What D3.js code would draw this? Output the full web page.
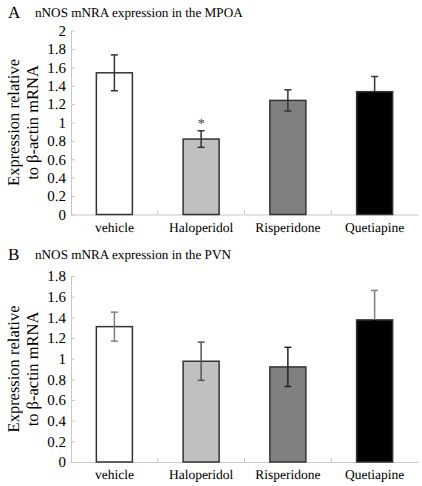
<!DOCTYPE html>
<html><head><meta charset="utf-8">
<script src="https://cdn.jsdelivr.net/npm/d3@7/dist/d3.min.js"></script>
<style>
html,body{margin:0;padding:0;background:#fff;}
svg text{font-family:"Liberation Serif","Times New Roman",serif !important;fill:#000;text-rendering:geometricPrecision;}
</style>
</head><body>
<svg id="chart" width="422" height="486"></svg>
<script>
const categories = ["vehicle", "Haloperidol", "Risperidone", "Quetiapine"];
const mpoaMeans = [1.54, 0.82, 1.24, 1.335];
const mpoaErrors = [0.195, 0.09, 0.115, 0.165];
const pvnMeans = [1.31, 0.975, 0.92, 1.375];
const pvnErrors = [0.14, 0.185, 0.19, 0.285];
const mpoaTicks = [0, 0.2, 0.4, 0.6, 0.8, 1, 1.2, 1.4, 1.6, 1.8, 2];
const pvnTicks = [0, 0.2, 0.4, 0.6, 0.8, 1, 1.2, 1.4, 1.6, 1.8];
const significance = ["", "*", "", ""];

const barFills = ["#ffffff", "#c0c0c0", "#808080", "#000000"];
const errColorsA = ["#333333", "#333333", "#333333", "#333333"];
const errLowColorsA = ["#333333", "#333333", "#333333", "#000000"];
const errColorsB = ["#808080", "#555555", "#222222", "#808080"];
const errLowColorsB = ["#808080", "#555555", "#222222", "#000000"];

const svg = d3.select("#chart");

function panel(opt) {
  const g = svg.append("g");
  const x = d3.scaleBand().domain(categories).range([71, 418])
    .paddingInner(0.585).paddingOuter(0.2925);
  const y = d3.scaleLinear().domain([0, opt.ticks[opt.ticks.length - 1]])
    .range([opt.y0, opt.y1]);

  // titles
  g.append("text").attr("x", 8).attr("y", opt.titleY).attr("font-size", 17).text(opt.letter);
  g.append("text").attr("x", 35).attr("y", opt.titleY - 1).attr("font-size", 13.2).text(opt.title);

  // y axis
  const ya = g.append("g").attr("transform", "translate(71,0)")
    .call(d3.axisLeft(y).tickValues(opt.ticks).tickSizeInner(-4).tickSizeOuter(0).tickPadding(5)
      .tickFormat(d => String(+d.toFixed(1))));
  ya.attr("font-family", null);
  ya.select(".domain").attr("stroke", "#c8c8c8");
  ya.selectAll(".tick line").attr("stroke", "#c8c8c8");
  ya.selectAll(".tick text").attr("font-size", 15).attr("fill", "#000");

  // x axis
  const xa = g.append("g").attr("transform", `translate(0,${opt.y0})`)
    .call(d3.axisBottom(x).tickSize(0).tickPadding(7.5));
  xa.attr("font-family", null);
  xa.select(".domain").attr("stroke", "#c8c8c8");
  xa.selectAll(".tick text").attr("font-size", 13.5).attr("fill", "#000");
  const gap = (x.step() - x.bandwidth()) / 2;
  g.selectAll(".sep").data(categories.slice(1)).enter().append("line")
    .attr("x1", d => x(d) - gap).attr("x2", d => x(d) - gap)
    .attr("y1", opt.y0).attr("y2", opt.y0 - 4)
    .attr("stroke", "#c8c8c8");

  const data = categories.map((c, i) => ({c, v: opt.means[i], e: opt.errs[i], i}));

  // bars
  g.selectAll(".bar").data(data).enter().append("rect")
    .attr("x", d => x(d.c)).attr("width", x.bandwidth())
    .attr("y", d => y(d.v)).attr("height", d => y(0) - y(d.v))
    .attr("fill", d => barFills[d.i]).attr("stroke", "#333").attr("stroke-width", 1.5);

  // error bars
  const cx = d => x(d.c) + x.bandwidth() / 2;
  const eb = g.selectAll(".err").data(data).enter().append("g")
    .attr("stroke-width", 1.5);
  eb.append("line").attr("x1", cx).attr("x2", cx)
    .attr("y1", d => y(d.v + d.e)).attr("y2", d => y(d.v))
    .attr("stroke", d => opt.errColors[d.i]);
  eb.append("line").attr("x1", d => cx(d) - 3.5).attr("x2", d => cx(d) + 3.5)
    .attr("y1", d => y(d.v + d.e)).attr("y2", d => y(d.v + d.e))
    .attr("stroke", d => opt.errColors[d.i]);
  eb.append("line").attr("x1", cx).attr("x2", cx)
    .attr("y1", d => y(d.v)).attr("y2", d => y(d.v - d.e))
    .attr("stroke", d => opt.errLowColors[d.i]);
  eb.append("line").attr("x1", d => cx(d) - 3.5).attr("x2", d => cx(d) + 3.5)
    .attr("y1", d => y(d.v - d.e)).attr("y2", d => y(d.v - d.e))
    .attr("stroke", d => opt.errLowColors[d.i]);

  if (opt.sig) {
    g.selectAll(".sig").data(data.filter(d => opt.sig[d.i])).enter().append("text")
      .attr("x", cx).attr("y", d => y(d.v + d.e) - 3)
      .attr("text-anchor", "middle").attr("font-size", 14).style("fill", "#444")
      .text(d => opt.sig[d.i]);
  }

  // y label
  const cy = (opt.y0 + opt.y1) / 2;
  const yl = g.append("text").attr("transform", `translate(19,${cy}) rotate(-90)`)
    .attr("text-anchor", "middle").attr("font-size", 16.5);
  yl.append("tspan").attr("x", 0).attr("dy", 0).text("Expression relative");
  yl.append("tspan").attr("x", 0).attr("dy", 19).text("to \u03b2-actin mRNA");
}

panel({letter: "A", title: "nNOS mNRA expression in the MPOA", titleY: 18,
  y0: 214.5, y1: 30.5, ticks: mpoaTicks, means: mpoaMeans, errs: mpoaErrors,
  errColors: errColorsA, errLowColors: errLowColorsA, sig: significance});
panel({letter: "B", title: "nNOS mNRA expression in the PVN", titleY: 260,
  y0: 462, y1: 276, ticks: pvnTicks, means: pvnMeans, errs: pvnErrors,
  errColors: errColorsB, errLowColors: errLowColorsB, sig: null});
</script>
</body></html>
